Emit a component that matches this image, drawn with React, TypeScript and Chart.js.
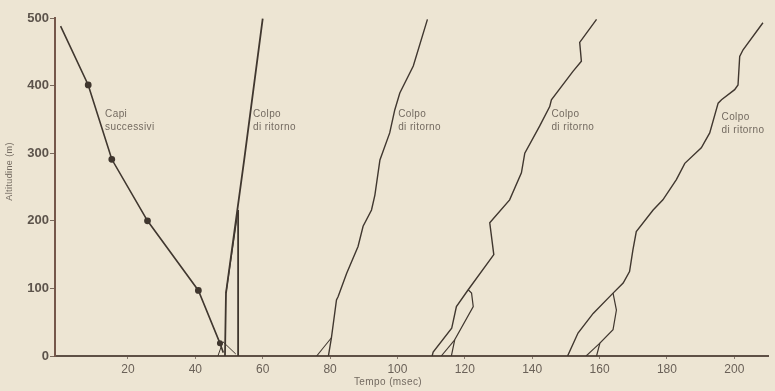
import { useEffect, useRef } from "react";
import { Chart, registerables } from "chart.js";

Chart.register(...registerables);

// ---- tick labels ----
const yTickValues = [0, 100, 200, 300, 400, 500];
const xTickValues = [20, 40, 60, 80, 100, 120, 140, 160, 180, 200];

// ---- paths: [time (ms), altitude (m)] ----
const leaderPath = [[0, 488], [8.2, 401], [15.2, 291], [25.8, 200], [40.9, 97], [47.3, 19], [48.3, 5]];
const leaderMarkers = [0, 2.6, 2.6, 2.6, 2.6, 2.2, 0];

const stroke1Main = [[48.8, 0], [49.1, 93], [54.5, 290], [60.0, 499]];
const stroke1Branch = [[49.1, 93], [52.7, 216]];
const stroke1Vertical = [[52.7, 216], [52.7, 0]];
const stroke1Base = [[46.7, 0], [48.2, 21], [52.0, 3]];

const stroke2Main = [[79.5, 0], [80.4, 27], [81.9, 83], [82.4, 88], [84.9, 122], [88.3, 162], [89.8, 192], [92.3, 216], [93.3, 238], [94.8, 290], [97.7, 330], [99.2, 364], [100.7, 389], [104.7, 429], [108.9, 498]];
const stroke2Branch = [[80.4, 27], [76.0, 0]];

const stroke3Main = [[110.3, 0], [110.6, 6], [116.1, 41], [117.5, 73], [121.0, 98], [128.6, 150], [127.4, 197], [133.3, 231], [136.8, 271], [137.8, 300], [142.2, 340], [145.2, 369], [145.7, 379], [152.1, 421], [154.6, 436], [154.1, 464], [159.1, 498]];
const stroke3Branch = [[121.0, 98], [122.0, 93], [122.5, 73], [117.0, 24], [116.0, 0]];
const stroke3Sub = [[117.0, 24], [113.0, 0]];

const stroke4Main = [[150.5, 0], [153.6, 34], [158.1, 63], [164.0, 93], [167.0, 108], [168.9, 125], [169.9, 157], [170.9, 184], [175.9, 216], [178.8, 231], [182.8, 261], [185.3, 285], [190.2, 308], [192.7, 330], [195.2, 374], [196.2, 379], [200.1, 394], [201.1, 401], [201.6, 443], [202.6, 453], [208.5, 493]];
const stroke4Branch = [[164.0, 93], [165.0, 68], [164.0, 39], [160.1, 19], [159.1, 0]];
const stroke4Sub = [[160.1, 19], [156.0, 0]];

// ---- annotations: [lines, time, altitude of first line] ----
const notes: [string[], number, number][] = [
  [["Capi", "successivi"], 13.2, 357],
  [["Colpo", "di ritorno"], 57.1, 357],
  [["Colpo", "di ritorno"], 100.2, 357],
  [["Colpo", "di ritorno"], 145.7, 357],
  [["Colpo", "di ritorno"], 196.2, 353],
];
const xTitle = "Tempo (msec)";
const yTitle = "Altitudine (m)";

const INK = "#40372f";
const TEXT = "#736a60";
const BG = "#ede5d3";

const toXY = (p: number[][]) => p.map(([x, y]) => ({ x, y }));

const notesPlugin = {
  id: "notes",
  afterDatasetsDraw(chart: any) {
    const { ctx, scales, chartArea } = chart;
    const x = scales.x;
    const y = scales.y;
    ctx.save();
    ctx.fillStyle = TEXT;
    ctx.textBaseline = "middle";
    ctx.textAlign = "left";
    ctx.font = '10px "Liberation Sans", Arial, sans-serif';
    try { (ctx as any).letterSpacing = "0.4px"; } catch (e) {}
    for (const [lines, t, h] of notes) {
      const px = x.getPixelForValue(t);
      const py = y.getPixelForValue(h);
      lines.forEach((s, i) => ctx.fillText(s, px, py + i * 13));
    }
    // axis titles
    ctx.textAlign = "center";
    ctx.font = '10px "Liberation Sans", Arial, sans-serif';
    ctx.fillText(xTitle, x.getPixelForValue(97.2), chartArea.bottom + 26);
    ctx.translate(10, y.getPixelForValue(273));
    ctx.rotate(-Math.PI / 2);
    ctx.font = '9px "Liberation Sans", Arial, sans-serif';
    ctx.fillText(yTitle, 0, 0);
    ctx.restore();
  },
};

export default function App() {
  const ref = useRef<HTMLCanvasElement>(null);
  useEffect(() => {
    if (!ref.current) return;
    const line = (data: number[][], width = 1.4, radius: number | number[] = 0) => ({
      data: toXY(data),
      showLine: true,
      borderColor: INK,
      backgroundColor: INK,
      borderWidth: width,
      pointRadius: radius,
      pointHoverRadius: 0,
      tension: 0,
    });
    const chart = new Chart(ref.current, {
      type: "scatter",
      data: {
        datasets: [
          line(leaderPath, 1.6, leaderMarkers),
          line(stroke1Main, 1.8),
          line(stroke1Branch, 1.1),
          line(stroke1Vertical, 1.8),
          line(stroke1Base, 1),
          line(stroke2Main),
          line(stroke2Branch, 1.1),
          line(stroke3Main),
          line(stroke3Branch, 1.2),
          line(stroke3Sub, 1.1),
          line(stroke4Main),
          line(stroke4Branch, 1.2),
          line(stroke4Sub, 1.1),
        ] as any,
      },
      options: {
        animation: false,
        responsive: false,
        maintainAspectRatio: false,
        layout: { padding: { left: 0, right: 7, top: 18, bottom: 0 } },
        plugins: { legend: { display: false }, tooltip: { enabled: false } },
        scales: {
          x: {
            type: "linear",
            min: -1.66,
            max: 210,
            afterBuildTicks: (s: any) => { s.ticks = xTickValues.map((v) => ({ value: v })); },
            afterFit: (s: any) => { s.height = 35; },
            grid: { display: true, drawOnChartArea: false, drawTicks: true, tickLength: 3, color: "#8a7d70" },
            border: { display: true, color: "#5e5045", width: 2 },
            ticks: {
              padding: 3,
              color: "#6a6158",
              font: { family: '"Liberation Sans", Arial, sans-serif', size: 12 },
              maxRotation: 0,
            },
          },
          y: {
            type: "linear",
            min: 0,
            max: 500,
            afterBuildTicks: (s: any) => { s.ticks = yTickValues.map((v) => ({ value: v })); },
            afterFit: (s: any) => { s.width = 55; },
            grid: { display: true, drawOnChartArea: false, drawTicks: true, tickLength: 5, color: "#7a6a5e" },
            border: { display: true, color: "#75574a", width: 2 },
            ticks: {
              padding: 1,
              color: "#5c534b",
              font: { family: '"Liberation Sans", Arial, sans-serif', size: 13, weight: "bold" },
            },
          },
        },
      } as any,
      plugins: [notesPlugin],
    });
    return () => chart.destroy();
  }, []);
  return (
    <div style={{ position: "fixed", left: 0, top: 0, width: 775, height: 391, background: BG }}>
      <canvas ref={ref} width={775} height={391} style={{ width: 775, height: 391, display: "block" }} />
    </div>
  );
}
